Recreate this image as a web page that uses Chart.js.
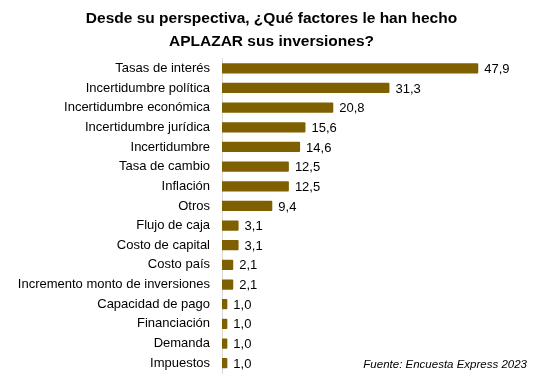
<!DOCTYPE html>
<html>
<head>
<meta charset="utf-8">
<script src="https://cdn.jsdelivr.net/npm/chart.js@4.4.0/dist/chart.umd.min.js"></script>
<style>
  html, body { margin: 0; padding: 0; background: #fff; }
  #wrap { width: 543px; height: 377px; }
</style>
</head>
<body>
<div id="wrap"><canvas id="factoresChart"></canvas></div>
<script>
const categories = [
    'Tasas de interés', 'Incertidumbre política', 'Incertidumbre económica',
    'Incertidumbre jurídica', 'Incertidumbre', 'Tasa de cambio', 'Inflación',
    'Otros', 'Flujo de caja', 'Costo de capital', 'Costo país',
    'Incremento monto de inversiones', 'Capacidad de pago', 'Financiación',
    'Demanda', 'Impuestos'
];
const values = [47.9, 31.3, 20.8, 15.6, 14.6, 12.5, 12.5, 9.4, 3.1, 3.1, 2.1, 2.1, 1.0, 1.0, 1.0, 1.0];
const titleLines = ['Desde su perspectiva, ¿Qué factores le han hecho', 'APLAZAR sus inversiones?'];
const sourceText = 'Fuente: Encuesta Express 2023';

const FONT = "'Liberation Sans', Arial, sans-serif";

// value labels at the end of each bar, plus the source note
const valueLabels = {
    id: 'valueLabels',
    afterDatasetsDraw(chart) {
        const ctx = chart.ctx;
        const meta = chart.getDatasetMeta(0);
        ctx.save();
        ctx.font = '13px ' + FONT;
        ctx.fillStyle = '#000';
        ctx.textBaseline = 'middle';
        ctx.textAlign = 'left';
        meta.data.forEach((bar, i) => {
            ctx.fillText(values[i].toFixed(1).replace('.', ','), bar.x + 6, bar.y + 1);
        });
        ctx.font = 'italic 11.5px ' + FONT;
        ctx.textAlign = 'right';
        ctx.fillText(sourceText, 527, 365);
        ctx.restore();
    }
};

const ctx = document.getElementById('factoresChart').getContext('2d');
new Chart(ctx, {
    type: 'bar',
    data: {
        labels: categories,
        datasets: [{
            data: values,
            backgroundColor: '#7f6000',
            borderRadius: 1,
            barPercentage: 0.52,
            categoryPercentage: 1
        }]
    },
    options: {
        indexAxis: 'y',
        responsive: true,
        maintainAspectRatio: false,
        animation: false,
        layout: { padding: { left: 0, right: 0, top: 0, bottom: 4 } },
        plugins: {
            legend: { display: false },
            tooltip: { enabled: false },
            title: {
                display: true,
                text: titleLines,
                color: '#000',
                font: { family: FONT, size: 15.5, weight: 'bold', lineHeight: 1.5 },
                padding: { top: 7, bottom: 5 }
            }
        },
        scales: {
            x: {
                min: 0,
                max: 60,
                display: false
            },
            y: {
                afterFit(scale) {
                    scale.width = 222;
                    scale.paddingTop = 0;
                    scale.paddingBottom = 0;
                },
                grid: { display: false },
                border: { display: true, color: '#d9d9d9', width: 1 },
                ticks: {
                    color: '#000',
                    padding: 4,
                    autoSkip: false,
                    font: { family: FONT, size: 13 }
                }
            }
        }
    },
    plugins: [valueLabels]
});
</script>
</body>
</html>
